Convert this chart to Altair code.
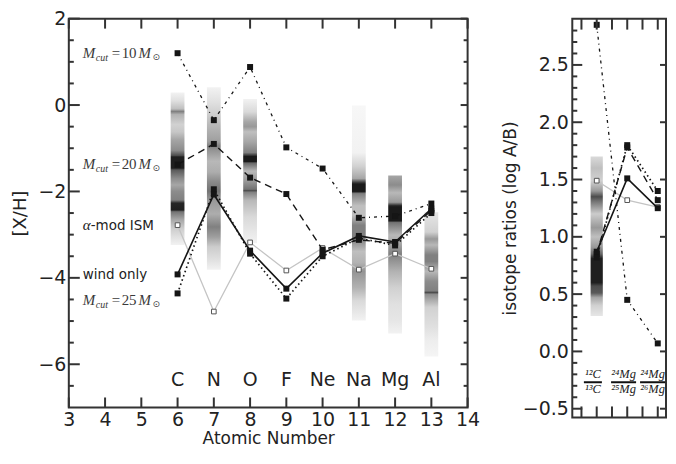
import altair as alt
import pandas as pd

# ---------------- data ----------------
Z = [6, 7, 8, 9, 10, 11, 12, 13]
ELEMENTS = ["C", "N", "O", "F", "Ne", "Na", "Mg", "Al"]

XH_MCUT10 = [1.20, -0.35, 0.88, -0.98, -1.47, -2.61, -2.57, -2.28]
XH_MCUT20 = [-1.38, -0.90, -1.68, -2.06, -3.35, -3.12, -3.20, -2.44]
XH_ALPHA = [-2.78, -4.78, -3.18, -3.83, -3.31, -3.81, -3.44, -3.79]
XH_WIND = [-3.92, -2.07, -3.37, -4.25, -3.43, -3.03, -3.17, -2.40]
XH_MCUT25 = [-4.36, -1.95, -3.44, -4.48, -3.50, -3.08, -3.25, -2.50]

RATIO_X = [1, 2, 3]
R_MCUT10 = [2.85, 0.45, 0.07]
R_MCUT20 = [0.85, 1.78, 1.32]
R_ALPHA = [1.49, 1.32, 1.26]
R_WIND = [0.87, 1.51, 1.25]
R_MCUT25 = [0.82, 1.80, 1.40]

# observed distributions: strip centre, (level, gray) samples from top to bottom
STRIP_C = (6, [0.29, 0.10, -0.09, -0.15, -0.22, -0.45, -0.62, -0.80, -1.05, -1.17, -1.20, -1.46, -1.50, -1.70, -1.85, -2.00, -2.20, -2.27, -2.43, -2.47, -2.65, -2.85, -3.05, -3.24],
           [0.95, 0.88, 0.75, 0.50, 0.70, 0.82, 0.78, 0.65, 0.55, 0.30, 0.12, 0.12, 0.35, 0.55, 0.65, 0.55, 0.50, 0.15, 0.12, 0.45, 0.65, 0.80, 0.88, 0.95])
STRIP_N = (7, [0.41, 0.06, -0.24, -0.47, -0.85, -0.95, -1.05, -1.30, -1.55, -1.76, -1.99, -2.21, -2.52, -2.82, -3.05, -3.28, -3.58, -3.81],
           [0.95, 0.88, 0.80, 0.72, 0.62, 0.50, 0.58, 0.72, 0.68, 0.55, 0.45, 0.60, 0.68, 0.50, 0.62, 0.80, 0.88, 0.95])
STRIP_O = (8, [0.14, -0.16, -0.39, -0.50, -0.62, -0.85, -1.10, -1.17, -1.19, -1.31, -1.34, -1.53, -1.76, -1.95, -1.98, -2.02, -2.21, -2.59, -3.20],
           [0.95, 0.85, 0.65, 0.60, 0.75, 0.65, 0.50, 0.20, 0.10, 0.10, 0.40, 0.72, 0.60, 0.45, 0.30, 0.50, 0.72, 0.85, 0.95])
STRIP_NA = (11, [-0.01, -1.10, -1.42, -1.70, -1.80, -1.83, -2.00, -2.05, -2.33, -2.55, -2.78, -3.09, -3.39, -3.65, -3.85, -4.23, -4.53, -4.99],
            [0.97, 0.95, 0.82, 0.65, 0.20, 0.10, 0.10, 0.50, 0.75, 0.75, 0.50, 0.50, 0.75, 0.70, 0.58, 0.70, 0.85, 0.95])
STRIP_MG = (12, [-1.63, -1.85, -2.03, -2.25, -2.33, -2.36, -2.68, -2.72, -3.01, -3.20, -3.45, -3.85, -4.23, -4.61, -4.99, -5.29],
            [0.65, 0.55, 0.72, 0.60, 0.15, 0.10, 0.10, 0.45, 0.72, 0.65, 0.50, 0.70, 0.82, 0.88, 0.90, 0.95])
STRIP_AL = (13, [-2.48, -2.94, -3.10, -3.24, -3.47, -3.62, -3.85, -4.08, -4.30, -4.34, -4.38, -4.68, -5.14, -5.44, -5.82],
            [0.90, 0.82, 0.60, 0.72, 0.50, 0.50, 0.72, 0.55, 0.50, 0.30, 0.55, 0.82, 0.88, 0.93, 0.96])
STRIP_RATIO = (1, [1.70, 1.60, 1.49, 1.40, 1.35, 1.31, 1.20, 1.08, 1.00, 0.91, 0.85, 0.81, 0.60, 0.57, 0.51, 0.47, 0.40, 0.31],
               [0.85, 0.75, 0.82, 0.60, 0.30, 0.45, 0.80, 0.60, 0.75, 0.60, 0.40, 0.12, 0.12, 0.30, 0.35, 0.65, 0.82, 0.90])

LEFT_X_TICKS = [3, 4, 5, 6, 7, 8, 9, 10, 11, 12, 13, 14]
LEFT_Y_LABELS = [-6, -4, -2, 0, 2]
LEFT_Y_MINOR = [-6.5, -5.5, -5, -4.5, -3.5, -3, -2.5, -1.5, -1, -0.5, 0.5, 1, 1.5]
RIGHT_X_TICKS = [0.5, 1.0, 1.5, 2.0, 2.5, 3.0]
RIGHT_Y_LABELS = [-0.5, 0.0, 0.5, 1.0, 1.5, 2.0, 2.5]
RIGHT_Y_MINOR = [-0.4, -0.3, -0.2, -0.1, 0.1, 0.2, 0.3, 0.4, 0.6, 0.7, 0.8, 0.9, 1.1, 1.2, 1.3, 1.4,
                 1.6, 1.7, 1.8, 1.9, 2.1, 2.2, 2.3, 2.4, 2.6, 2.7, 2.8]

FRAC_X = [0.875, 1.88, 2.83]
FRAC_NUM = ["¹²C", "²⁴Mg", "²⁴Mg"]
FRAC_DEN = ["¹³C", "²⁵Mg", "²⁶Mg"]
FRAC_BAR_X = [0.58, 1.47, 2.42]
FRAC_BAR_X2 = [1.17, 2.29, 3.24]

# label anchor (baseline) positions at the left of the main panel
LABEL_X = 3.385
LABEL_Y = {"mcut10": 1.09, "mcut20": -1.49, "alpha": -2.90, "wind": -4.02, "mcut25": -4.63}

# ---------------- styling ----------------
AX = "#333333"
INK = "#151515"
STYLE = {
    "alpha": dict(color="#c4c4c4", dash=None, width=1.3),
    "mcut10": dict(color=INK, dash=[3, 4, 1, 4], width=1.3),
    "mcut20": dict(color=INK, dash=[7, 5], width=1.4),
    "mcut25": dict(color=INK, dash=[1.5, 3], width=1.7),
    "wind": dict(color=INK, dash=None, width=1.6),
}
ORDER = ["alpha", "mcut10", "mcut20", "mcut25", "wind"]

W_L, H_L = 400, 390
W_R, H_R = 94, 400

xs_L = alt.Scale(domain=[3, 14], nice=False, zero=False)
ys_L = alt.Scale(domain=[-7, 2], nice=False, zero=False)
xs_R = alt.Scale(domain=[0.2, 3.27], nice=False, zero=False)
ys_R = alt.Scale(domain=[-0.576, 2.904], nice=False, zero=False)

X_L = alt.X("x:Q", scale=xs_L, axis=alt.Axis(values=LEFT_X_TICKS, ticks=False, domain=False, grid=False,
                                             labelFontSize=19, labelPadding=3, labelFlush=False,
                                             labelOverlap=False, title="Atomic Number",
                                             titleFontSize=17, titlePadding=1))
Y_L = alt.Y("y:Q", scale=ys_L, axis=alt.Axis(values=LEFT_Y_LABELS, ticks=False, domain=False, grid=False,
                                             labelFontSize=19, labelPadding=3, labelFlush=False,
                                             labelOverlap=False, title="[X/H]",
                                             titleFontSize=18, titlePadding=8))
X_R = alt.X("x:Q", scale=xs_R, axis=None)
Y_R = alt.Y("y:Q", scale=ys_R, axis=alt.Axis(values=RIGHT_Y_LABELS, format=".1f", ticks=False, domain=False,
                                             grid=False, labelFontSize=19, labelPadding=4, labelFlush=False,
                                             labelOverlap=False, title="isotope ratios (log A/B)",
                                             titleFontSize=17, titlePadding=3))


def gray_hex(g):
    v = int(round(g * 255))
    return "#{0:02x}{0:02x}{0:02x}".format(v)


def strip_layer(strip, half, X, Y):
    xc, levels, grays = strip
    top, bot = levels[0], levels[-1]
    stops = [alt.GradientStop(color=gray_hex(g), offset=(top - lv) / (top - bot)) for lv, g in zip(levels, grays)]
    df = pd.DataFrame([{"x": xc - half, "x2": xc + half, "y": top, "y2": bot}])
    return alt.Chart(df).mark_rect(
        color=alt.Gradient(gradient="linear", stops=stops, x1=0, x2=0, y1=0, y2=1)
    ).encode(x=X, x2="x2:Q", y=Y, y2="y2:Q")


def series_layers(xv, yv, key, X, Y):
    st = STYLE[key]
    df = pd.DataFrame({"x": xv, "y": yv})
    kw = dict(color=st["color"], strokeWidth=st["width"])
    if st["dash"]:
        kw["strokeDash"] = st["dash"]
    line = alt.Chart(df).mark_line(**kw).encode(x=X, y=Y)
    if key == "alpha":
        pts = alt.Chart(df).mark_square(size=22, fill="white", stroke="#555555", strokeWidth=1,
                                        opacity=1).encode(x=X, y=Y)
    else:
        pts = alt.Chart(df).mark_square(size=36, color=INK, opacity=1).encode(x=X, y=Y)
    return [line, pts]


def yticks(vals, length, Y, side_x, W):
    df = pd.DataFrame({"y": vals})
    if side_x == "left":
        enc = dict(x=alt.value(0), x2=alt.value(length))
    else:
        enc = dict(x=alt.value(W), x2=alt.value(W - length))
    return alt.Chart(df).mark_rule(color=AX, strokeWidth=2).encode(y=Y, **enc)


def xticks(vals, length, X, H):
    df = pd.DataFrame({"x": vals})
    top = alt.Chart(df).mark_rule(color=AX, strokeWidth=2).encode(x=X, y=alt.value(0), y2=alt.value(length))
    bot = alt.Chart(df).mark_rule(color=AX, strokeWidth=2).encode(x=X, y=alt.value(H), y2=alt.value(H - length))
    return [top, bot]


def text_part(x, y, txt, dx, dy, size, font="Liberation Serif", style="normal", X=None, Y=None,
              color="#3a3a3a", align="left"):
    df = pd.DataFrame({"x": [x], "y": [y], "t": [txt]})
    return alt.Chart(df).mark_text(align=align, baseline="alphabetic", dx=dx, dy=dy, fontSize=size,
                                   font=font, fontStyle=style, color=color).encode(x=X, y=Y, text="t:N")


# ---------------- left panel ----------------
left_layers = []
for s in [STRIP_C, STRIP_N, STRIP_O, STRIP_NA, STRIP_MG, STRIP_AL]:
    left_layers.append(strip_layer(s, 0.19, X_L, Y_L))

data_L = {"alpha": XH_ALPHA, "mcut10": XH_MCUT10, "mcut20": XH_MCUT20, "mcut25": XH_MCUT25, "wind": XH_WIND}
for k in ORDER:
    left_layers += series_layers(Z, data_L[k], k, X_L, Y_L)

left_layers.append(yticks(LEFT_Y_LABELS, 11, Y_L, "left", W_L))
left_layers.append(yticks(LEFT_Y_MINOR, 5, Y_L, "left", W_L))
left_layers.append(yticks(LEFT_Y_LABELS, 7, Y_L, "right", W_L))
left_layers.append(yticks(LEFT_Y_MINOR, 4, Y_L, "right", W_L))
left_layers += xticks(LEFT_X_TICKS, 10, X_L, H_L)

# element names
el_df = pd.DataFrame({"x": Z, "y": [-6.5] * len(Z), "t": ELEMENTS})
left_layers.append(alt.Chart(el_df).mark_text(baseline="alphabetic", fontSize=19, font="DejaVu Sans",
                                              color="#222222").encode(x=X_L, y=Y_L, text="t:N"))

# model labels
for key, num in [("mcut10", "10"), ("mcut20", "20"), ("mcut25", "25")]:
    yb = LABEL_Y[key]
    left_layers += [
        text_part(LABEL_X, yb, "M", 0, 0, 15, style="italic", X=X_L, Y=Y_L),
        text_part(LABEL_X, yb, "cut", 13, 3, 10, style="italic", X=X_L, Y=Y_L),
        text_part(LABEL_X, yb, "=", 29, 0, 15, X=X_L, Y=Y_L),
        text_part(LABEL_X, yb, num, 39, 0, 15, X=X_L, Y=Y_L),
        text_part(LABEL_X, yb, "M", 56, 0, 15, style="italic", X=X_L, Y=Y_L),
        text_part(LABEL_X, yb, "⊙", 70, 2, 9, font="DejaVu Sans", X=X_L, Y=Y_L),
    ]
left_layers += [
    text_part(LABEL_X, LABEL_Y["alpha"], "α", 0, 0, 15, style="italic", X=X_L, Y=Y_L, color="#222222"),
    text_part(LABEL_X, LABEL_Y["alpha"], "-mod ISM", 8, 0, 13.5, font="DejaVu Sans", X=X_L, Y=Y_L,
              color="#222222"),
    text_part(LABEL_X, LABEL_Y["wind"], "wind only", 0, 0, 13.5, font="DejaVu Sans", X=X_L, Y=Y_L,
              color="#222222"),
]

left = alt.layer(*left_layers).properties(width=W_L, height=H_L)

# ---------------- right panel ----------------
right_layers = [strip_layer(STRIP_RATIO, 0.2, X_R, Y_R)]
data_R = {"alpha": R_ALPHA, "mcut10": R_MCUT10, "mcut20": R_MCUT20, "mcut25": R_MCUT25, "wind": R_WIND}
for k in ORDER:
    right_layers += series_layers(RATIO_X, data_R[k], k, X_R, Y_R)

right_layers.append(yticks(RIGHT_Y_LABELS, 10, Y_R, "left", W_R))
right_layers.append(yticks(RIGHT_Y_MINOR, 5, Y_R, "left", W_R))
right_layers.append(yticks(RIGHT_Y_LABELS, 6, Y_R, "right", W_R))
right_layers += xticks(RIGHT_X_TICKS, 11, X_R, H_R)

num_df = pd.DataFrame({"x": FRAC_X, "y": [-0.232] * 3, "t": FRAC_NUM})
den_df = pd.DataFrame({"x": FRAC_X, "y": [-0.367] * 3, "t": FRAC_DEN})
bar_df = pd.DataFrame({"x": FRAC_BAR_X, "x2": FRAC_BAR_X2, "y": [-0.269] * 3})
right_layers += [
    alt.Chart(num_df).mark_text(baseline="alphabetic", fontSize=12.5, font="Liberation Serif",
                                fontStyle="italic", color="#222222").encode(x=X_R, y=Y_R, text="t:N"),
    alt.Chart(den_df).mark_text(baseline="alphabetic", fontSize=12.5, font="Liberation Serif",
                                fontStyle="italic", color="#222222").encode(x=X_R, y=Y_R, text="t:N"),
    alt.Chart(bar_df).mark_rule(color="#111111", strokeWidth=2).encode(x=X_R, x2="x2:Q", y=Y_R),
]

right = alt.layer(*right_layers).properties(width=W_R, height=H_R)

chart = alt.hconcat(left, right, spacing=18).properties(
    padding={"left": 2, "top": 0, "right": 0, "bottom": 0}
).configure_view(stroke=AX, strokeWidth=2).configure_axis(
    labelFont="DejaVu Sans", titleFont="DejaVu Sans", labelColor="#222222", titleColor="#222222",
    titleFontWeight="normal"
)

chart.save("out.html", embed_options={"renderer": "svg", "actions": False})
